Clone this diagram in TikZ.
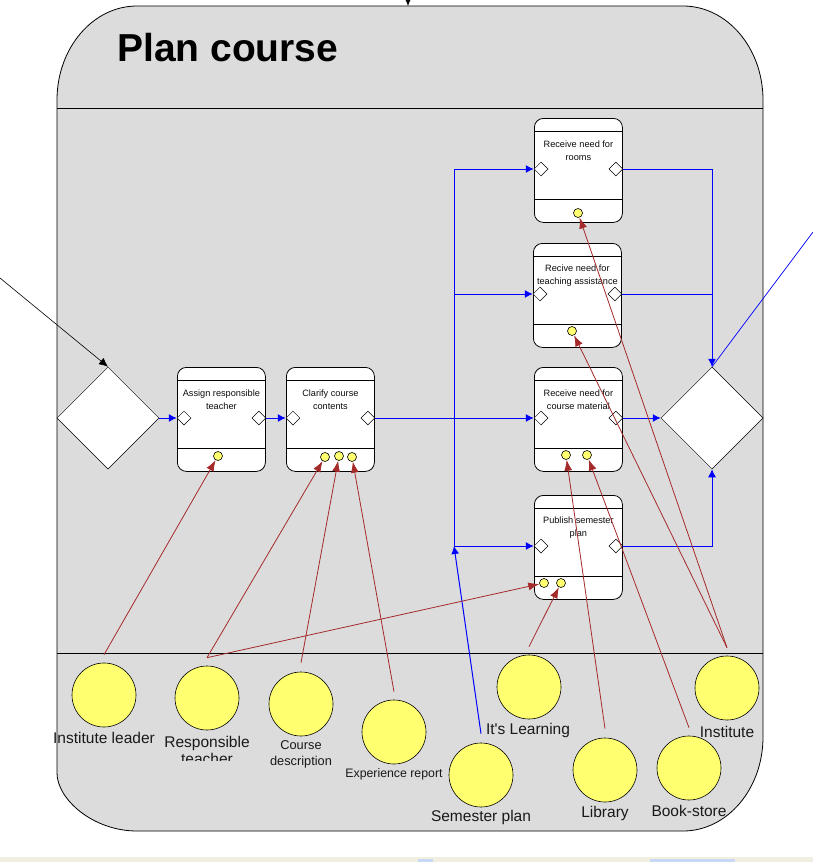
\documentclass[tikz,border=0pt]{standalone}
\usepackage{fontspec}
\setmainfont{Liberation Sans}[Ligatures=TeXOff]
\usetikzlibrary{shapes.geometric,arrows.meta,calc}
\definecolor{bggray}{RGB}{220,220,220}
\definecolor{resyellow}{RGB}{255,255,112}
\definecolor{dred}{RGB}{165,42,42}
\definecolor{flowblue}{RGB}{0,0,255}
\definecolor{stripbeige}{RGB}{241,239,226}
\definecolor{uiblue}{RGB}{200,215,245}
\newcommand{\ActBox}[4]{%
  \node[actbox, anchor=north west] (#1) at (#2,#3) {};
  \draw[line width=0.8pt] ($(#1.north west)+(0,13)$) -- ($(#1.north east)+(0,13)$);
  \draw[line width=0.8pt] ($(#1.south west)+(0,-23)$) -- ($(#1.south east)+(0,-23)$);
  \node[acttext] (#1-txt) at ($(#1.north)+(0,32.5)$) {#4};
  \node[port] (#1-in) at ($(#1.north west)+(7,51)$) {};
  \node[port] (#1-out) at ($(#1.north east)+(-7,51)$) {};
}
\begin{document}
\begin{tikzpicture}[x=1pt,y=-1pt,
  actbox/.style={draw, fill=white, rounded corners=9pt, minimum width=88pt, minimum height=104pt, inner sep=0pt, line width=0.8pt},
  port/.style={draw, fill=white, diamond, minimum width=14pt, minimum height=14pt, inner sep=0pt, line width=0.5pt},
  dotres/.style={draw, fill=resyellow, circle, minimum size=9pt, inner sep=0pt, line width=0.6pt},
  resc/.style={draw, fill=resyellow, circle, minimum size=64pt, inner sep=0pt, line width=0.6pt},
  gate/.style={draw, fill=white, diamond, minimum width=102pt, minimum height=102pt, inner sep=0pt, line width=0.5pt},
  acttext/.style={font=\fontsize{9.2}{13}\selectfont, align=center, inner sep=0pt, text=black!95},
  reslabel/.style={font=\fontsize{15.5}{17}\selectfont, anchor=base, inner sep=0pt, text=black!90},
  smalllabel/.style={font=\fontsize{12.8}{15}\selectfont, anchor=base, inner sep=0pt, text=black!90},
  flow/.style={draw=flowblue, line width=1pt, -{Latex[length=8pt,width=8pt]}},
  flowline/.style={draw=flowblue, line width=1pt},
  usearrow/.style={draw=dred, line width=0.8pt, -{Latex[length=11pt,width=8pt]}},
  blackarrow/.style={draw=black, line width=0.6pt, -{Latex[length=9pt,width=8pt]}},
]
\useasboundingbox (0,0) rectangle (813,862);
\fill[white] (0,0) rectangle (813,862);
% container
\draw[fill=bggray, line width=0.8pt]
  (57,100) .. controls (57,48.1) and (92.8,6) .. (137,6)
  -- (683,6) .. controls (727.2,6) and (763,48.1) .. (763,100)
  -- (763,737) .. controls (763,788.9) and (727.2,831) .. (683,831)
  -- (137,831) .. controls (92.8,831) and (57,799) .. (57,773) -- cycle;
\draw[line width=0.8pt] (57,108) -- (763,108);
\draw[line width=0.8pt] (57,653) -- (763,653);
\node[font=\fontsize{39}{40}\selectfont\bfseries, anchor=base west, inner sep=0pt] (title) at (117,61) {Plan course};
% bottom UI strip
\fill[stripbeige] (0,857) rectangle (813,862);
\fill[uiblue] (418,859) rectangle (433,862);
\fill[uiblue] (650,859) rectangle (735,862);
% gateways
\node[gate] (lg) at (108,418) {};
\node[gate] (rg) at (712,418) {};
% activities
\ActBox{b1}{177}{367}{Assign responsible\\teacher}
\ActBox{b2}{286}{367}{Clarify course\\contents}
\ActBox{rooms}{534}{118}{Receive need for\\rooms}
\ActBox{teach}{533}{243}{Recive need for\\teaching assistance}
\ActBox{mat}{534}{367}{Receive need for\\course material}
\ActBox{pub}{534}{495}{Publish semester\\plan}
% resource dots
\node[dotres] (b1-d1) at (218,456) {};
\node[dotres] (b2-d1) at (325,457) {};
\node[dotres] (b2-d2) at (339,456) {};
\node[dotres] (b2-d3) at (352,457) {};
\node[dotres] (rooms-d) at (578,213) {};
\node[dotres] (teach-d) at (572,331) {};
\node[dotres] (mat-d1) at (566,455) {};
\node[dotres] (mat-d2) at (587,455) {};
\node[dotres] (pub-d1) at (544,583) {};
\node[dotres] (pub-d2) at (561,583) {};
% resources
\node[resc] (il) at (104,695) {};
\node[resc] (rt) at (207,698) {};
\node[resc] (cd) at (301,704) {};
\node[resc] (er) at (394,732) {};
\node[resc] (sp) at (481,775) {};
\node[resc] (itl) at (529,687) {};
\node[resc] (lib) at (605,770) {};
\node[resc] (bs) at (689,768) {};
\node[resc] (inst) at (727,688) {};
% labels
\node[reslabel] (il-lab) at (104,743) {Institute leader};
\node[reslabel] (rt-lab) at (207,747) {Responsible};
\begin{scope}
  \clip (150,748) rectangle (270,760);
  \node[reslabel] (rt-lab2) at (207,764) {teacher};
\end{scope}
\node[smalllabel] (cd-lab) at (301,749) {Course};
\node[smalllabel] (cd-lab2) at (301,765) {description};
\node[smalllabel, font=\fontsize{12.3}{15}\selectfont] (er-lab) at (394,777) {Experience report};
\node[reslabel] (sp-lab) at (481,821) {Semester plan};
\node[reslabel] (itl-lab) at (528,734) {It's Learning};
\node[reslabel] (lib-lab) at (605,817) {Library};
\node[reslabel] (bs-lab) at (689,816) {Book-store};
\node[reslabel] (inst-lab) at (727,737) {Institute};
% flow connectors
\coordinate (topin) at (408,-1);
\coordinate (ctop) at (408,6);
\draw[blackarrow] (topin) -- (ctop);
\coordinate (entry) at (0,278);
\draw[blackarrow] (entry) -- (lg.north);
\coordinate (exit) at (813,232);
\draw[draw=flowblue, line width=0.7pt] (rg.north) -- (exit);
\coordinate (jpub) at (454,546);
\draw[flow] (lg.east) -- (b1-in.west);
\draw[flow] (b1-out.east) -- (b2-in.west);
\draw[flow] (b2-out.east) -- (mat-in.west);
\draw[flow] (jpub) |- (rooms-in.west);
\draw[flow] (jpub) |- (teach-in.west);
\draw[flow] (jpub) -- (pub-in.west);
\draw[flow] (rooms-out.east) -| (rg.north);
\draw[flowline] (teach-out.east) -- (teach-out.east -| rg.north);
\draw[flow] (mat-out.east) -- (rg.west);
\draw[flow] (pub-out.east) -| (rg.south);
\draw[flow] ([yshift=9pt]sp.north) -- (jpub);
% resource connectors
\draw[usearrow] ([yshift=8pt]il.north) -- (b1-d1);
\draw[usearrow] ([yshift=8pt]rt.north) -- (b2-d1);
\draw[usearrow] ([yshift=8pt]rt.north) -- (pub-d1);
\draw[usearrow] ([yshift=9pt]cd.north) -- (b2-d2);
\draw[usearrow] ([yshift=8pt]er.north) -- (b2-d3);
\draw[usearrow] ([yshift=8pt]itl.north) -- (pub-d2);
\draw[usearrow] ([yshift=9pt]lib.north) -- (mat-d1);
\draw[usearrow] ([yshift=8pt]bs.north) -- (mat-d2);
\draw[usearrow] ([yshift=8pt]inst.north) -- (rooms-d);
\draw[usearrow] ([yshift=8pt]inst.north) -- (teach-d);
\end{tikzpicture}
\end{document}
